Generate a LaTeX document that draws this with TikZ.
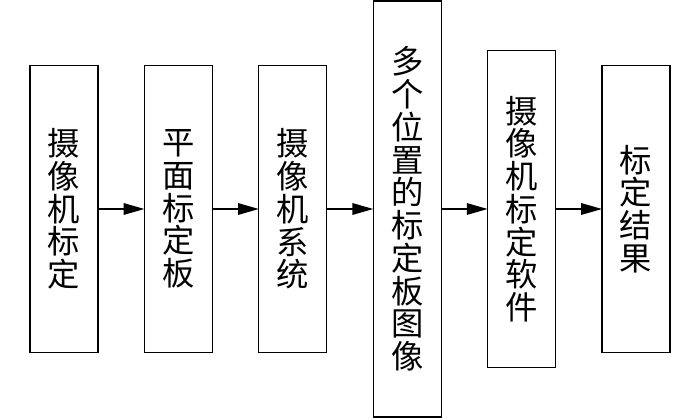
\documentclass[tikz,border=0pt]{standalone}
\usepackage{fontspec}
\setmainfont{Noto Sans CJK SC}
\usetikzlibrary{positioning,arrows.meta}

\begin{document}
\begin{tikzpicture}[x=1cm, y=1cm, >={Triangle[length=5.2mm,width=2.9mm]}]
      \tikzset{
  stepbox/.style={
    rectangle,
    draw,
    line width=.9pt,
    minimum width=1.7cm,
    minimum height=7.175cm,
    inner sep=0pt,
    outer sep=0pt,
    align=center,
    font=\fontsize{23pt}{23.3pt}\selectfont
  },
  midbox/.style={
    stepbox,
    minimum height=7.925cm
  },
  tallbox/.style={
    stepbox,
    minimum height=10.4cm
  }
}
\useasboundingbox (0,0) rectangle (17.5,10.475);

\node [stepbox] (calib) at (1.6,5.25) {摄\\像\\机\\标\\定};
\node [stepbox, right=1.16cm of calib] (board) {平\\面\\标\\定\\板};
\node [stepbox, right=1.16cm of board] (camsys) {摄\\像\\机\\系\\统};
\node [tallbox, right=1.16cm of camsys] (images) {多\\个\\位\\置\\的\\标\\定\\板\\图\\像};
\node [midbox, right=1.16cm of images] (software) {摄\\像\\机\\标\\定\\软\\件};
\node [stepbox, right=1.16cm of software] (result) {标\\定\\结\\果};

\foreach \a/\b in {calib/board, board/camsys, camsys/images, images/software, software/result}
  \draw [->, line width=.9pt] (\a) -- (\b);
    \end{tikzpicture}
\end{document}
